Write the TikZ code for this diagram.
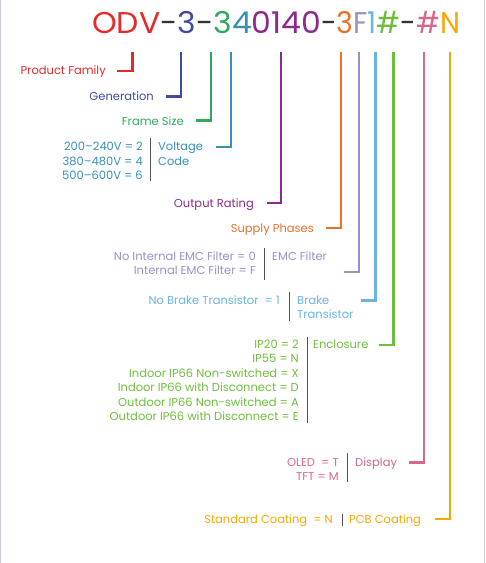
\documentclass[tikz,border=0pt]{standalone}
\usepackage{fontspec}
\usepackage{graphicx}
\setmainfont{Poppins}
\definecolor{cRed}{HTML}{E42B2B}
\definecolor{cBlue}{HTML}{3F4C9E}
\definecolor{cGreen}{HTML}{2DAA5C}
\definecolor{cTeal}{HTML}{3592B6}
\definecolor{cPurple}{HTML}{8A2A8C}
\definecolor{cOrange}{HTML}{E8712A}
\definecolor{cLav}{HTML}{9B8FC8}
\definecolor{cLBlue}{HTML}{6AB4E6}
\definecolor{cGreen2}{HTML}{6DBE3C}
\definecolor{cPink}{HTML}{D9678A}
\definecolor{cYellow}{HTML}{F6A800}
\definecolor{cDash}{HTML}{333333}
\newlength\headw
\newlength\tailw
\newcommand\titlefont{\fontsize{30}{32}\selectfont}
\newcommand\headtext{\textcolor{cRed}{ODV}\textcolor{cDash}{-}\textcolor{cBlue}{3}\textcolor{cDash}{-}\textcolor{cGreen}{3}\textcolor{cTeal}{4}\textcolor{cPurple}{0140}}
\newcommand\tailtext{\textcolor{cDash}{-}\textcolor{cOrange}{3}\textcolor{cLav}{F}\textcolor{cLBlue}{1}\textcolor{cGreen2}{\#}\textcolor{cDash}{-}\textcolor{cPink}{\#}\textcolor{cYellow}{N}}
\begin{document}
\begin{tikzpicture}[x=1pt,y=-1pt,
  lbl/.style={inner sep=0pt,font=\fontsize{11.5}{13}\selectfont},
  lr/.style={lbl,anchor=base east},
  ll/.style={lbl,anchor=base west},
  conn/.style={line width=2.6pt},
  sep/.style={line width=0.8pt,draw=cDash!85}]
\useasboundingbox (0,0) rectangle (486,563);
\draw[draw=cLav!50,line width=1.2pt] (0.6,0) -- (0.6,563);
\draw[draw=black!20,line width=1pt] (484.5,0) -- (484.5,563);
% title
\node[inner sep=0pt,anchor=base west] (thead) at (92,33)
  {\settowidth\headw{\titlefont\headtext}\pgfmathsetmacro\hs{229/\headw}\scalebox{\hs}[1]{\titlefont\headtext}};
\node[inner sep=0pt,anchor=base west] (ttail) at (321,33)
  {\settowidth\tailw{\titlefont\tailtext}\pgfmathsetmacro\ts{139/\tailw}\scalebox{\ts}[1]{\titlefont\tailtext}};
% top coordinates of connectors
\coordinate (t1) at (132.5,52); \coordinate (e1) at (117,71);
\coordinate (t2) at (181,52);   \coordinate (e2) at (166,96.7);
\coordinate (t3) at (211,52);   \coordinate (e3) at (196,120.7);
\coordinate (t4) at (231,52);   \coordinate (e4) at (216,147);
\coordinate (t5) at (281,52);   \coordinate (e5) at (267,203);
\coordinate (t6) at (341,52);   \coordinate (e6) at (326,228);
\coordinate (t7) at (359,52);   \coordinate (e7) at (344,272);
\coordinate (t8) at (375.5,52); \coordinate (e8) at (361,300.7);
\coordinate (t9) at (393.5,52); \coordinate (e9) at (379,345);
\coordinate (t10) at (424,52);  \coordinate (e10) at (409,462.7);
\coordinate (t11) at (450,52);  \coordinate (e11) at (435,519);
\draw[conn,cRed] (t1) |- (e1);
\draw[conn,cBlue] (t2) |- (e2);
\draw[conn,cGreen] (t3) |- (e3);
\draw[conn,cTeal] (t4) |- (e4);
\draw[conn,cPurple] (t5) |- (e5);
\draw[conn,cOrange] (t6) |- (e6);
\draw[conn,cLav] (t7) |- (e7);
\draw[conn,cLBlue] (t8) |- (e8);
\draw[conn,cGreen2] (t9) |- (e9);
\draw[conn,cPink] (t10) |- (e10);
\draw[conn,cYellow] (t11) |- (e11);
% labels
\node[lr,cRed] (pf) at (106,74) {Product Family};
\node[lr,cBlue] (gen) at (154,100) {Generation};
\node[lr,cGreen] (fs) at (184,125) {Frame Size};
% voltage
\node[lr,cTeal] (v1) at (143,150.7) {200–240V = 2};
\node[lr,cTeal] (v2) at (143,165) {380–480V = 4};
\node[lr,cTeal] (v3) at (143,179.3) {500–600V = 6};
\draw[sep] (150,138) -- (150,181);
\node[ll,cTeal] (vh1) at (158,150.7) {Voltage};
\node[ll,cTeal] (vh2) at (158,165) {Code};
\node[lr,cPurple] (or) at (254,207) {Output Rating};
\node[lr,cOrange] (sp) at (314,232) {Supply Phases};
% EMC
\node[lr,cLav] (m1) at (256,260) {No Internal EMC Filter = 0};
\node[lr,cLav] (m2) at (256,274) {Internal EMC Filter = F};
\draw[sep] (264,248) -- (264,280);
\node[ll,cLav] (mh) at (272,260) {EMC Filter};
% brake
\node[lr,cLBlue] (b1) at (280,304) {No Brake Transistor~ = 1};
\draw[sep] (289,292) -- (289,321);
\node[ll,cLBlue] (bh1) at (297,304) {Brake};
\node[ll,cLBlue] (bh2) at (297,318) {Transistor};
% enclosure
\node[lr,cGreen2] (n1) at (299,348) {IP20 = 2};
\node[lr,cGreen2] (n2) at (299,362.5) {IP55 = N};
\node[lr,cGreen2] (n3) at (299,377) {Indoor IP66 Non-switched = X};
\node[lr,cGreen2] (n4) at (299,391.5) {Indoor IP66 with Disconnect = D};
\node[lr,cGreen2] (n5) at (299,406) {Outdoor IP66 Non-switched = A};
\node[lr,cGreen2] (n6) at (299,420.5) {Outdoor IP66 with Disconnect = E};
\draw[sep] (307,337) -- (307,423);
\node[ll,cGreen2] (nh) at (313,348) {Enclosure};
% display
\node[lr,cPink] (d1) at (339,466) {OLED~ = T};
\node[lr,cPink] (d2) at (339,480) {TFT = M};
\draw[sep] (347,453) -- (347,482);
\node[ll,cPink] (dh) at (355,466) {Display};
% pcb
\node[lr,cYellow] (p1) at (333,523) {Standard Coating~ = N};
\draw[sep] (342,514) -- (342,526);
\node[ll,cYellow] (ph) at (349,523) {PCB Coating};
\end{tikzpicture}
\end{document}
